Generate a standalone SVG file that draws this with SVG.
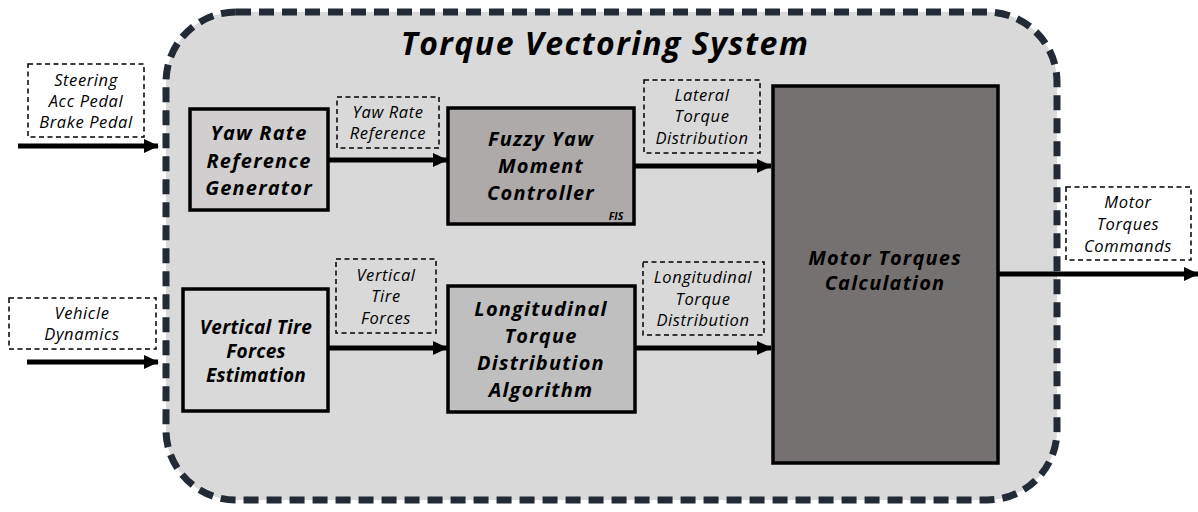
<svg xmlns="http://www.w3.org/2000/svg" width="1198" height="512" viewBox="0 0 1198 512">
<style>
.blk{stroke:#000;stroke-width:3.5}
.lbl{fill:none;stroke:#000;stroke-width:1.5;stroke-dasharray:5,3.5}
.bt{font-family:"Open Sans","DejaVu Sans",sans-serif;font-weight:bold;font-style:italic;font-size:20px;letter-spacing:1.2px;fill:#000;text-anchor:middle}
.st{font-family:"Open Sans","DejaVu Sans",sans-serif;font-style:italic;font-size:16.5px;letter-spacing:0.6px;fill:#000;text-anchor:middle}
.ar{stroke:#000;stroke-width:5;fill:none;marker-end:url(#ah)}
</style>
<defs>
<marker id="ah" markerUnits="userSpaceOnUse" markerWidth="16" markerHeight="16" refX="14" refY="8" orient="auto">
<path d="M0,1 L15,8 L0,15 Z" fill="#000"/>
</marker>
</defs>
<rect width="1198" height="512" fill="#fff"/>
<g id="container">
<rect x="166" y="12" width="891" height="488" rx="70" ry="70" fill="#d9d9d9" stroke="#222a35" stroke-width="7" stroke-dasharray="15,8"/>
<text x="605" y="55" font-family="'Open Sans','DejaVu Sans',sans-serif" font-weight="bold" font-style="italic" font-size="32" letter-spacing="1.5" text-anchor="middle" fill="#000">Torque Vectoring System</text>
</g>
<g id="connectors">
<line class="ar" x1="18" y1="146" x2="158" y2="146"/>
<line class="ar" x1="27" y1="362" x2="158" y2="362"/>
<line class="ar" x1="328" y1="160" x2="447" y2="160"/>
<line class="ar" x1="634" y1="166" x2="771" y2="166"/>
<line class="ar" x1="328" y1="348" x2="447" y2="348"/>
<line class="ar" x1="635" y1="348" x2="771" y2="348"/>
<line class="ar" x1="998" y1="274" x2="1198" y2="274"/>
</g>
<g id="in-driver">
<rect class="lbl" x="28" y="64" width="116" height="73"/>
<text class="st" x="86" y="86">Steering</text>
<text class="st" x="86" y="107">Acc Pedal</text>
<text class="st" x="86" y="128">Brake Pedal</text>
</g>
<g id="in-vehicle">
<rect class="lbl" x="9" y="298" width="147" height="51"/>
<text class="st" x="82" y="319">Vehicle</text>
<text class="st" x="82" y="340">Dynamics</text>
</g>
<g id="yaw-ref-gen">
<rect class="blk" x="190" y="109" width="138" height="101" fill="#d0cece"/>
<text class="bt" x="259" y="140">Yaw Rate</text>
<text class="bt" x="259" y="168">Reference</text>
<text class="bt" x="259" y="195">Generator</text>
</g>
<g id="lbl-yaw-ref">
<rect class="lbl" x="337" y="97" width="102" height="51"/>
<text class="st" x="388" y="118">Yaw Rate</text>
<text class="st" x="388" y="139">Reference</text>
</g>
<g id="fuzzy">
<rect class="blk" x="448" y="108" width="186" height="116" fill="#aeaaaa"/>
<text class="bt" x="541" y="146">Fuzzy Yaw</text>
<text class="bt" x="541" y="173">Moment</text>
<text class="bt" x="541" y="200">Controller</text>
<text x="616" y="220" font-family="'Open Sans','DejaVu Sans',sans-serif" font-weight="bold" font-style="italic" font-size="10.5" text-anchor="middle" fill="#000">FIS</text>
</g>
<g id="lbl-lateral">
<rect class="lbl" x="644" y="80" width="116" height="73"/>
<text class="st" x="702" y="101">Lateral</text>
<text class="st" x="702" y="122">Torque</text>
<text class="st" x="702" y="144">Distribution</text>
</g>
<g id="vert-tire">
<rect class="blk" x="183" y="289" width="145" height="122" fill="#d9d9d9"/>
<text class="bt" x="256" y="334" style="font-size:19px;letter-spacing:0.3px">Vertical Tire</text>
<text class="bt" x="256" y="358" style="font-size:19px;letter-spacing:0.3px">Forces</text>
<text class="bt" x="256" y="382" style="font-size:19px;letter-spacing:0.3px">Estimation</text>
</g>
<g id="lbl-vert">
<rect class="lbl" x="336" y="259" width="100" height="74"/>
<text class="st" x="386" y="281">Vertical</text>
<text class="st" x="386" y="302">Tire</text>
<text class="st" x="386" y="324">Forces</text>
</g>
<g id="long-alg">
<rect class="blk" x="448" y="286" width="187" height="126" fill="#bfbfbf"/>
<text class="bt" x="541" y="316">Longitudinal</text>
<text class="bt" x="541" y="343">Torque</text>
<text class="bt" x="541" y="370">Distribution</text>
<text class="bt" x="541" y="397">Algorithm</text>
</g>
<g id="lbl-long">
<rect class="lbl" x="643" y="262" width="121" height="73"/>
<text class="st" x="703" y="283">Longitudinal</text>
<text class="st" x="703" y="305">Torque</text>
<text class="st" x="703" y="326">Distribution</text>
</g>
<g id="motor-calc">
<rect class="blk" x="773" y="86" width="225" height="377" fill="#757171"/>
<text class="bt" x="885" y="265">Motor Torques</text>
<text class="bt" x="885" y="290">Calculation</text>
</g>
<g id="lbl-out">
<rect class="lbl" x="1066" y="187" width="125" height="73"/>
<text class="st" x="1128" y="208">Motor</text>
<text class="st" x="1128" y="230">Torques</text>
<text class="st" x="1128" y="252">Commands</text>
</g>
</svg>
